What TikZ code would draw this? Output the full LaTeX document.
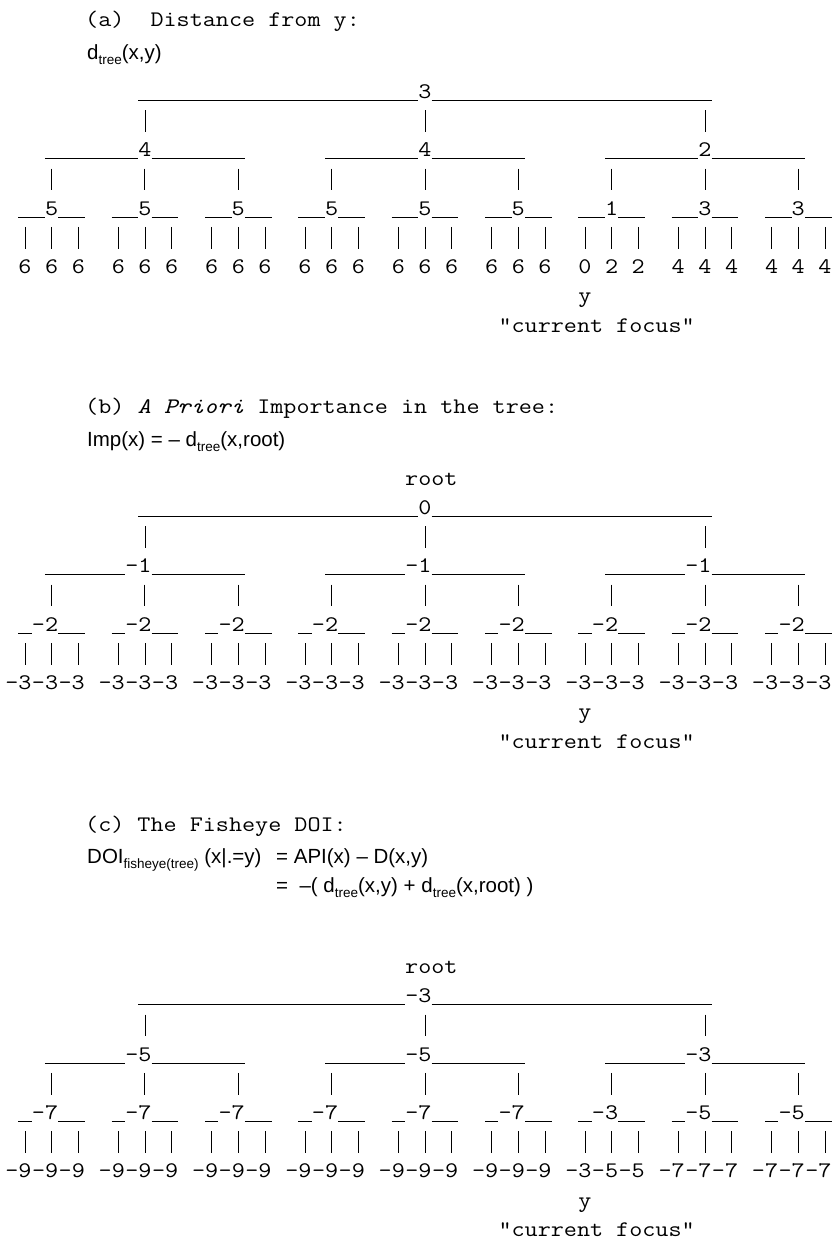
\documentclass[tikz,border=0pt]{standalone}
\usepackage{fontspec}
\setmonofont{Latin Modern Mono}[FakeStretch=1.143]
\setsansfont{Liberation Sans}
\usetikzlibrary{calc}
\newcommand\low[1]{\raisebox{-5pt}{\fontsize{13.5}{15}\selectfont #1}}

\begin{document}
\begin{tikzpicture}[x=1pt,y=-1pt,
  val/.style={font=\ttfamily\fontsize{22.22}{26}\selectfont, inner sep=0pt, anchor=base east, text height=13.3pt, text depth=1.8pt},
  txt/.style={font=\ttfamily\fontsize{22.22}{26}\selectfont, inner sep=0pt, anchor=base west},
  frm/.style={font=\sffamily\fontsize{20.5}{24}\selectfont, inner sep=0pt, anchor=base west},
  bar/.style={line width=1pt},
  pipe/.style={line width=1pt, shorten <=9.8pt, shorten >=11.5pt}]
\useasboundingbox (0,0) rectangle (832,1241);

%(a) distance from y
\node[txt] (ahead) at (85,26.7) {(a)\ \ Distance from y:};
\node[frm] (aform) at (87,60) {d\low{tree}(x,y)};
\node[val] (a0) at (431.67,98.4) {3};
\foreach \v [count=\h from 0] in {4,4,2}
  \node[val] (a1-\h) at (151.67+280*\h,156.8) {\v};
\foreach \v [count=\g from 0] in {5,5,5,5,5,5,1,3,3}
  \node[val] (a2-\g) at (58.33+93.333*\g,215.2) {\v};
\foreach \v [count=\lf from 0] in {6,6,6,6,6,6,6,6,6,6,6,6,6,6,6,6,6,6,0,2,2,4,4,4,4,4,4}
  \node[val] (a3-\lf) at ({31.67+26.667*mod(\lf,3)+93.333*floor(\lf/3)},273.6) {\v};
\node[txt,anchor=base] (ay) at (585,302.8) {y};
\node[txt] (afocus) at (498.33,332) {"current focus"};

%(b) a priori importance
\node[txt] (bhead) at (85,413.5) {(b) \textit{A Priori} Importance in the tree:};
\node[frm] (bform) at (87,446.7) {Imp(x) = \textendash{} d\low{tree}(x,root)};
\node[txt] (broot) at (405,485.2) {root};
\node[val] (b0) at (431.67,514.4) {0};
\foreach \v [count=\h from 0] in {-1,-1,-1}
  \node[val] (b1-\h) at (151.67+280*\h,572.8) {\v};
\foreach \v [count=\g from 0] in {-2,-2,-2,-2,-2,-2,-2,-2,-2}
  \node[val] (b2-\g) at (58.33+93.333*\g,631.2) {\v};
\foreach \lf in {0,...,26}
  \node[val] (b3-\lf) at ({31.67+26.667*mod(\lf,3)+93.333*floor(\lf/3)},689.6) {-3};
\node[txt,anchor=base] (by) at (585,718.8) {y};
\node[txt] (bfocus) at (498.33,748) {"current focus"};

%(c) fisheye DOI
\node[txt] (chead) at (85,831) {(c) The Fisheye DOI:};
\node[frm] (cform) at (87,863) {DOI\low{fisheye(tree)} (x|.=y)};
\node[frm] (crhs) at (276,863) {= API(x) \textendash{} D(x,y)};
\node[frm] (crhs2) at (276,892) {= \ \textendash( d\low{tree}(x,y) + d\low{tree}(x,root) )};
\node[txt] (croot) at (405,973.5) {root};
\node[val] (c0) at (431.67,1002.7) {-3};
\foreach \v [count=\h from 0] in {-5,-5,-3}
  \node[val] (c1-\h) at (151.67+280*\h,1061.1) {\v};
\foreach \v [count=\g from 0] in {-7,-7,-7,-7,-7,-7,-3,-5,-5}
  \node[val] (c2-\g) at (58.33+93.333*\g,1119.5) {\v};
\foreach \v [count=\lf from 0] in {-9,-9,-9,-9,-9,-9,-9,-9,-9,-9,-9,-9,-9,-9,-9,-9,-9,-9,-3,-5,-5,-7,-7,-7,-7,-7,-7}
  \node[val] (c3-\lf) at ({31.67+26.667*mod(\lf,3)+93.333*floor(\lf/3)},1177.9) {\v};
\node[txt,anchor=base] (cy) at (585,1207.1) {y};
\node[txt] (cfocus) at (498.33,1236.3) {"current focus"};

%bars and pipes
\foreach \tr in {a,b,c}{
  \draw[bar] ($(\tr1-0.east |- \tr0.south)+(-13.333,0)$) -- (\tr0.south west);
  \draw[bar] (\tr0.south east) -- (\tr1-2.east |- \tr0.south);
  \foreach \h in {0,1,2}{
    \draw[pipe] ($(\tr1-\h.east |- \tr0.south)+(-6.667,0)$) -- ($(\tr1-\h.north east)+(-6.667,0)$);
    \pgfmathtruncatemacro\lf{3*\h}
    \pgfmathtruncatemacro\rt{3*\h+2}
    \draw[bar] ($(\tr2-\lf.east |- \tr1-\h.south)+(-13.333,0)$) -- (\tr1-\h.south west);
    \draw[bar] (\tr1-\h.south east) -- (\tr2-\rt.east |- \tr1-\h.south);
  }
  \foreach \g in {0,...,8}{
    \pgfmathtruncatemacro\h{\g/3}
    \draw[pipe] ($(\tr2-\g.east |- \tr1-\h.south)+(-6.667,0)$) -- ($(\tr2-\g.north east)+(-6.667,0)$);
    \pgfmathtruncatemacro\lf{3*\g}
    \pgfmathtruncatemacro\rt{3*\g+2}
    \draw[bar] ($(\tr3-\lf.east |- \tr2-\g.south)+(-13.333,0)$) -- (\tr2-\g.south west);
    \draw[bar] (\tr2-\g.south east) -- (\tr3-\rt.east |- \tr2-\g.south);
  }
  \foreach \lf in {0,...,26}{
    \pgfmathtruncatemacro\g{\lf/3}
    \draw[pipe] ($(\tr3-\lf.east |- \tr2-\g.south)+(-6.667,0)$) -- ($(\tr3-\lf.north east)+(-6.667,0)$);
  }
}
\end{tikzpicture}
\end{document}
